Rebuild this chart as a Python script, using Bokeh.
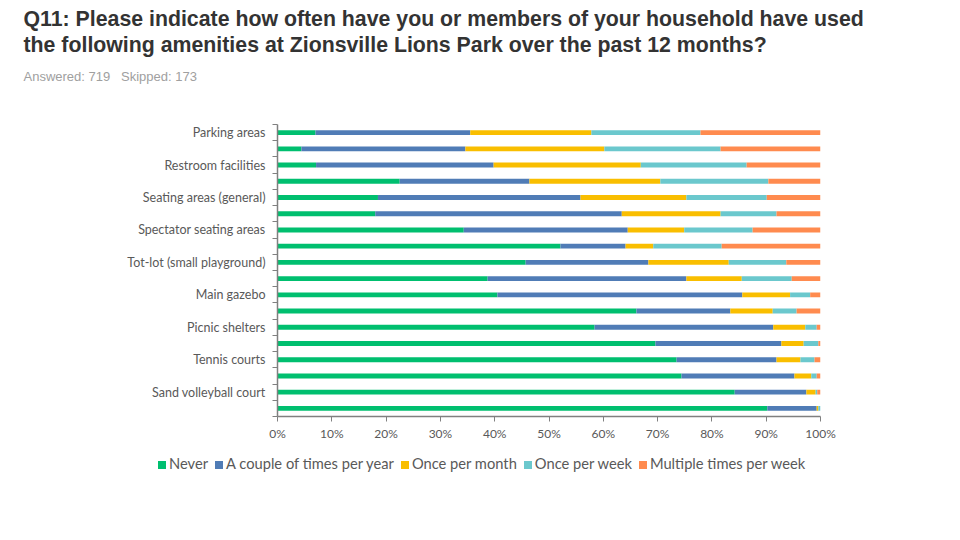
from bokeh.plotting import figure
from bokeh.layouts import column
from bokeh.models import ColumnDataSource, Range1d, FixedTicker, Title, Div
from bokeh.embed import file_html
from bokeh.resources import INLINE

amenities = ["Parking areas", "", "Restroom facilities", "", "Seating areas (general)", "",
             "Spectator seating areas", "", "Tot-lot (small playground)", "", "Main gazebo", "",
             "Picnic shelters", "", "Tennis courts", "", "Sand volleyball court", ""]
never =    [7.0, 4.4, 7.1, 22.5, 18.5, 18.0, 34.3, 52.1, 45.7, 38.7, 40.5, 66.1, 58.4, 69.6, 73.5, 74.4, 84.2, 90.2]
couple =   [28.5, 30.2, 32.7, 23.9, 37.3, 45.4, 30.2, 12.0, 22.6, 36.6, 45.1, 17.3, 32.9, 23.2, 18.4, 20.8, 13.2, 9.1]
monthly =  [22.3, 25.6, 27.1, 24.1, 19.5, 18.2, 10.4, 5.1, 14.8, 10.2, 8.8, 7.8, 5.9, 4.1, 4.4, 3.1, 1.7, 0.3]
weekly =   [20.1, 21.4, 19.5, 19.9, 14.8, 10.3, 12.6, 12.6, 10.6, 9.2, 3.7, 4.4, 2.1, 2.7, 2.6, 1.0, 0.3, 0.4]
multiple = [22.1, 18.4, 13.6, 9.6, 9.9, 8.1, 12.5, 18.2, 6.3, 5.3, 1.9, 4.4, 0.7, 0.4, 1.1, 0.7, 0.6, 0.0]
series_names = ["Never", "A couple of times per year", "Once per month", "Once per week", "Multiple times per week"]
x_ticks = [0, 10, 20, 30, 40, 50, 60, 70, 80, 90, 100]
colors = ["#00BF6F", "#507CB6", "#F9BE00", "#6BC8CD", "#FF8B4F"]

keys = ["never", "couple", "monthly", "weekly", "multiple"]
source = ColumnDataSource(dict(y=list(range(len(amenities))), never=never, couple=couple,
                               monthly=monthly, weekly=weekly, multiple=multiple))

FONT = "Lato"
p = figure(width=944, height=450, output_backend="svg", toolbar_location=None,
           x_range=Range1d(0, 100), y_range=Range1d(len(amenities) - 0.5, -0.5),
           min_border_left=277, min_border_right=124, min_border_top=124, min_border_bottom=34)
p.outline_line_color = None
p.xgrid.visible = False
p.ygrid.visible = False

renderers = p.hbar_stack(keys, y="y", height=0.3, color=colors, source=source, line_width=0)

# y axis
yax = p.yaxis[0]
yax.ticker = FixedTicker(ticks=[i for i, n in enumerate(amenities) if n],
                         minor_ticks=[i - 0.5 for i in range(len(amenities) + 1)])
yax.major_label_overrides = {i: n for i, n in enumerate(amenities) if n}
yax.major_tick_line_color = None
yax.minor_tick_out = 5
yax.minor_tick_in = 0
yax.minor_tick_line_color = "#808080"
yax.axis_line_color = "#808080"
yax.axis_line_width = 1.5
yax.major_label_standoff = 6
yax.major_label_text_font = FONT
yax.major_label_text_font_size = "12.5px"
yax.major_label_text_color = "#595959"

xax = p.xaxis[0]
xax.ticker = FixedTicker(ticks=x_ticks)
xax.major_label_overrides = {t: f"{t}%" for t in x_ticks}
xax.minor_tick_line_color = None
xax.major_tick_out = 5
xax.major_tick_in = 0
xax.major_tick_line_color = "#808080"
xax.axis_line_color = "#808080"
xax.axis_line_width = 1.5
xax.major_label_standoff = 4
xax.major_label_text_font = FONT
xax.major_label_text_font_size = "12px"
xax.major_label_text_color = "#595959"

# titles (added bottom-up; first one is a blank spacer)
p.add_layout(Title(text="\u00a0", align="left", standoff=16,
                   text_font="Liberation Sans", text_font_size="13px"), "above")
p.add_layout(Title(text="Answered: 719\u00a0\u00a0\u00a0Skipped: 173", align="left", offset=-254, standoff=16,
                   text_font="Liberation Sans", text_font_style="normal", text_font_size="13px",
                   text_color="#A0A0A0"), "above")
p.add_layout(Title(text="the following amenities at Zionsville Lions Park over the past 12 months?",
                   align="left", offset=-254, standoff=3,
                   text_font="Liberation Sans", text_font_style="bold", text_font_size="21.3px",
                   text_color="#333333"), "above")
p.add_layout(Title(text="Q11: Please indicate how often have you or members of your household have used",
                   align="left", offset=-254, standoff=-3,
                   text_font="Liberation Sans", text_font_style="bold", text_font_size="21.3px",
                   text_color="#333333"), "above")

# legend row below the chart
items_html = "".join(
    f'<span style="display:inline-block;width:8px;height:8px;background:{c};'
    f'vertical-align:middle;margin-right:3px;"></span>'
    f'<span style="margin-right:7px;">{n}</span>'
    for n, c in zip(series_names, colors))
legend_div = Div(text=f'<div style="font-family:Lato;font-size:14.7px;color:#595959;'
                      f'padding-left:158px;padding-top:5px;line-height:17px;white-space:nowrap;">'
                      f'{items_html}</div>',
                 width=944, height=40, margin=0)

layout = column(p, legend_div, spacing=0)
open("out.html", "w").write(file_html(layout, INLINE))
